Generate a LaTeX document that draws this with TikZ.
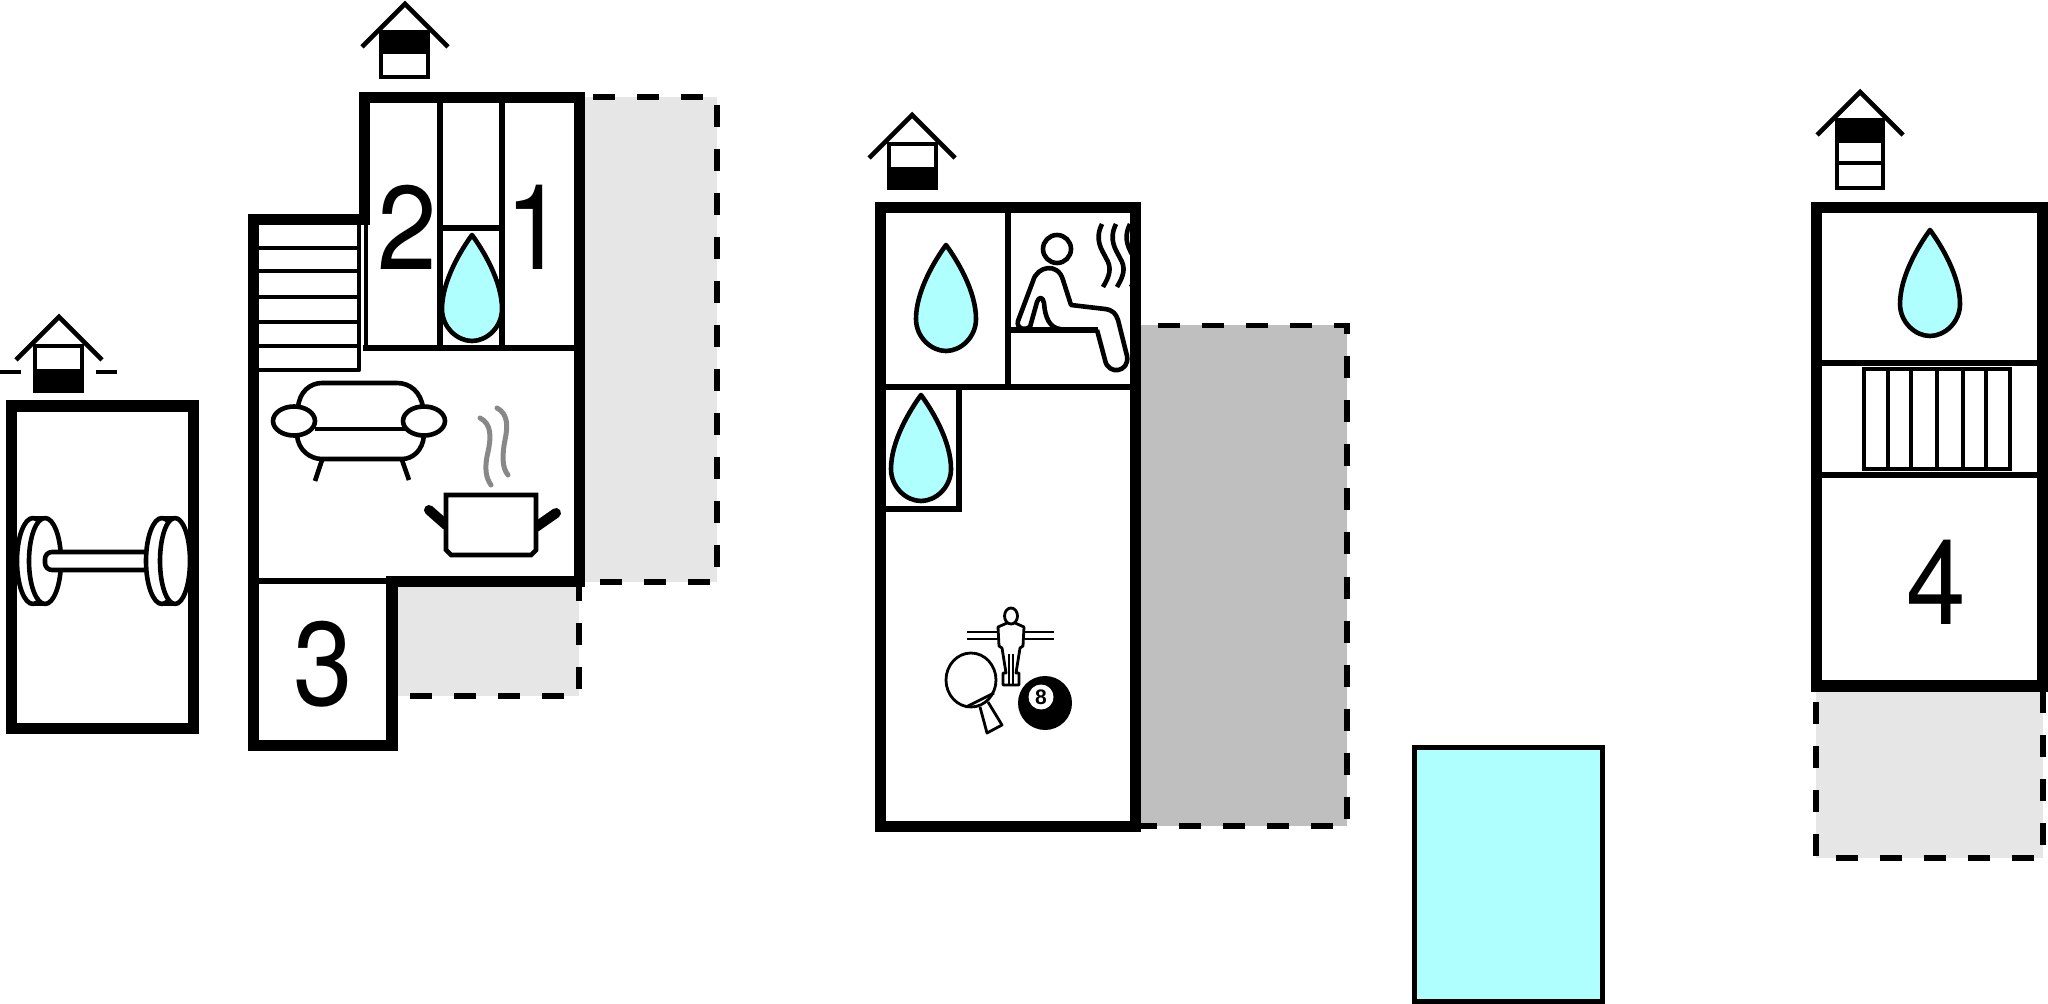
\documentclass[tikz,border=0pt]{standalone}
\usepackage{fontspec}
\setmainfont{Liberation Sans}
\newfontfamily\digitfont[FakeStretch=0.9]{TeX Gyre Heros}
\definecolor{water}{HTML}{B0FFFF}
\definecolor{terrace light}{HTML}{E6E6E6}
\definecolor{terrace dark}{HTML}{BFBFBF}
\definecolor{steam}{HTML}{888888}
\tikzset{
    wall/.style={draw, line width=5.6pt, line join=miter},
    partition/.style={draw, line width=2.6pt},
    symbol/.style={draw, line width=2.3pt, line join=round},
    fine/.style={draw, line width=1.4pt, line join=round},
    terrace/.style={fill=#1, draw=black, line width=2.7pt, dash pattern=on 11pt off 11pt},
    digit/.style={inner sep=0pt, font=\digitfont\fontsize{59.5}{60}\selectfont},
    drop/.pic={
        \filldraw[symbol, fill=water] (0,2) .. controls (-11,17) and (-30,48) .. (-30,76)
            .. controls (-30,94) and (-15,108) .. (0,108)
            .. controls (15,108) and (30,94) .. (30,76)
            .. controls (30,48) and (11,17) .. (0,2) -- cycle;
    },
    roof/.pic={
        \draw[symbol, line join=miter] (-43,43) -- (0,0) -- (43,43);
    }
}

\begin{document}
\begin{tikzpicture}[x=0.5pt,y=-0.5pt]
	\useasboundingbox (0,0) rectangle (2048,1004);

	% gym
	\pic at (59,317) {roof};
	\filldraw[symbol, fill=white, line join=miter] (35,346) rectangle (82,391);
	\fill (33,369) rectangle (84,393);
	\draw[symbol] (0,372) -- (21,372);
	\draw[symbol] (96,372) -- (117,372);
	\draw[wall] (11.5,406) rectangle (193.5,728.5);
	\filldraw[symbol, fill=white] (33,561) ellipse (16 and 43);
	\draw[symbol] (33,518) -- (45,518);
	\draw[symbol] (33,604) -- (45,604);
	\filldraw[symbol, fill=white] (45,561) ellipse (16 and 43);
	\filldraw[symbol, fill=white, rounded corners=3.5pt] (45,552) rectangle (160,570);
	\filldraw[symbol, fill=white] (162,561) ellipse (16 and 43);
	\draw[symbol] (162,518) -- (175,518);
	\draw[symbol] (162,604) -- (175,604);
	\filldraw[symbol, fill=white] (175,561) ellipse (15 and 43);

	% main house
	\filldraw[terrace=terrace light, dash phase=18pt] (585,97) -- (717,97) -- (717,582) -- (585,582);
	\fill[terrace light] (397,587) rectangle (579,696);
	\draw[terrace=none, dash phase=4pt] (579,587) -- (579,696) -- (397,696);
	\pic at (405,4) {roof};
	\filldraw[symbol, fill=white, line join=miter] (381,32) rectangle (428,77);
	\fill (379,30) rectangle (430,54);
	\draw[partition] (363,348) -- (574,348);
	\draw[partition] (440,103) -- (440,348);
	\draw[partition] (502,103) -- (502,348);
	\draw[partition] (440,228) -- (502,228);
	\draw[partition] (259,581) -- (387,581);
	\draw[symbol] (259,370) -- (359,370) -- (359,225);
	\draw[symbol] (366,225) -- (366,348);
	\foreach \y in {248,271,297,322,346}
		\draw[symbol] (259,\y) -- (359,\y);
	\pic at (472,233) {drop};
	\node[digit] (two) at (407,227) {2};
	\node[digit] (one) at (535,227) {1};
	\node[digit] (three) at (323,664) {3};
	\draw[wall] (364.5,225) -- (364.5,97.5) -- (579.5,97.5) -- (579.5,581.5) -- (392,581.5) -- (392,745.5) -- (253.5,745.5) -- (253.5,219.5) -- (370,219.5);
	% sofa
	\draw[symbol] (298,408) .. controls (299,392) and (310,383) .. (322,383) -- (397,383) .. controls (410,383) and (421,392) .. (423,408);
	\draw[symbol] (297,435) .. controls (298,450) and (310,459) .. (322,459) -- (402,459) .. controls (413,459) and (423,450) .. (424,435);
	\draw[symbol] (315,429) -- (405,429);
	\draw[symbol] (322,460) -- (315,481);
	\draw[symbol] (402,460) -- (409,480);
	\filldraw[symbol, fill=white] (294,421) ellipse (21 and 14.5);
	\filldraw[symbol, fill=white] (424,421) ellipse (21 and 14.5);
	% pot
	\draw[steam, line width=2.5pt, line cap=round] (480,418) .. controls (492,424) and (491,438) .. (488,452) .. controls (484,468) and (486,478) .. (491,485);
	\draw[steam, line width=2.5pt, line cap=round] (497,408) .. controls (508,414) and (508,426) .. (505,440) .. controls (502,455) and (502,468) .. (508,475);
	\draw[line width=5pt, line cap=round] (429,510) -- (446,525);
	\draw[line width=5pt, line cap=round] (556,513) -- (536,527);
	\filldraw[symbol, fill=white, line join=miter] (446,495) -- (536,495) -- (536,550) -- (531,555) -- (451,555) -- (446,550) -- cycle;

	% spa house
	\filldraw[terrace=terrace dark, dash phase=13.5pt] (1141,325.5) -- (1347,325.5) -- (1347,826) -- (1141,826);
	\pic at (912,115) {roof};
	\filldraw[symbol, fill=white, line join=miter] (889,144) rectangle (936,188);
	\fill (887,167) rectangle (938,190);
	\draw[partition] (1008,213) -- (1008,387);
	\draw[partition] (886,387) -- (1130,387);
	\draw[partition] (959,387) -- (959,509) -- (886,509);
	\draw[partition] (1008,330) -- (1098,330);
	\pic at (946,243) {drop};
	\pic at (921,393) {drop};
	% sauna
	\draw[symbol] (1057,249) circle (14);
	\draw[symbol] (1030,327) .. controls (1025,331) and (1016,329) .. (1018,321) -- (1033,281) .. controls (1037,266) and (1058,262) .. (1063,280) -- (1071,305) -- (1105,309) .. controls (1113,310) and (1116,314) .. (1118,320) -- (1127,356) .. controls (1130,372) and (1108,376) .. (1105,360) -- (1097,330);
	\draw[symbol] (1030,327) -- (1037,302) .. controls (1039,296) and (1043,297) .. (1044,303) .. controls (1045,318) and (1050,328) .. (1060,329);
	\foreach \x in {0,14,28}
		\draw[symbol] (1102+\x,224) .. controls (1094+\x,240) and (1102+\x,250) .. (1106+\x,258) .. controls (1112+\x,268) and (1110+\x,275) .. (1103+\x,287);
	\draw[wall] (880.5,207.5) rectangle (1135.5,826.5);
	% games
	\foreach \y in {632,639} {
		\draw[fine] (967,\y) -- (998,\y);
		\draw[fine] (1025,\y) -- (1054,\y);
	}
	\draw[fine] (1011,616) ellipse (6.5 and 8);
	\draw[fine] (1007,623) -- (998,627) -- (999,646) -- (1002,648) -- (1006,673) -- (1003,673) -- (1003,685) -- (1019,685) -- (1019,673) -- (1016,673) -- (1020,648) -- (1023,646) -- (1024,627) -- (1015,623);
	\draw[fine] (1009,654) -- (1009,684);
	\draw[fine] (1013,654) -- (1013,684);
	\draw[fine] (980,707) -- (987,733) -- (1002,725) -- (988,702);
	\draw[fine] (971,680) ellipse (25 and 27);
	\draw[fine] (966,707) -- (994,693);
	\fill (1045,703) circle (27);
	\node[circle, fill=white, inner sep=0pt, minimum size=12.5pt, font=\bfseries\fontsize{10.5}{11}\selectfont] (eight) at (1041,697) {8};

	% pool
	\filldraw[line width=2.5pt, fill=water] (1414,747) rectangle (1602,1001.5);

	% far house
	\filldraw[terrace=terrace light, dash phase=0.5pt] (2043,692) -- (2043,858) -- (1816,858) -- (1816,692);
	\pic at (1860,92) {roof};
	\filldraw[symbol, fill=white, line join=miter] (1837,120) rectangle (1883,188);
	\fill (1835,118) rectangle (1885,143);
	\draw[symbol] (1837,163) -- (1883,163);
	\pic at (1930,228) {drop};
	\draw[partition] (1822,363) -- (2037,363);
	\draw[partition] (1822,475) -- (2037,475);
	\draw[symbol, line join=miter] (1864,369) rectangle (2010,469);
	\foreach \x in {1888,1911,1937,1963,1986}
		\draw[symbol] (\x,369) -- (\x,469);
	\node[digit] (four) at (1936,582) {4};
	\draw[wall] (1816.5,207.5) rectangle (2042.5,686);
\end{tikzpicture}
\end{document}
